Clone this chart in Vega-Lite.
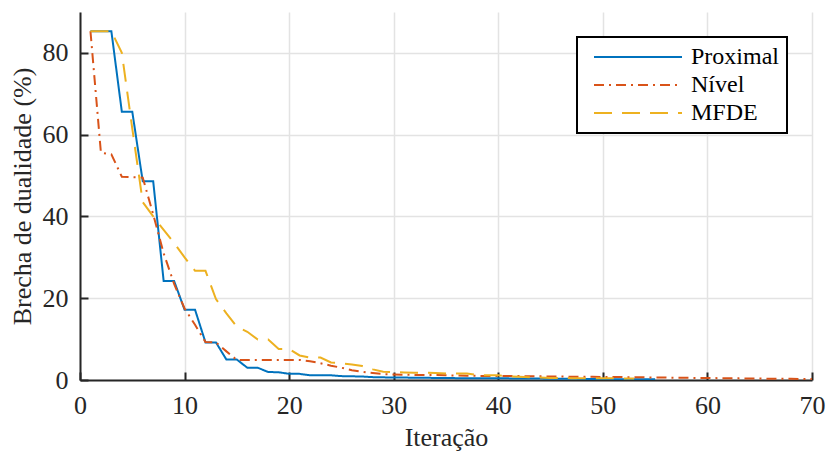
{
  "$schema": "https://vega.github.io/schema/vega-lite/v6.json",
  "width": 732,
  "height": 368,
  "autosize": {"type": "none"},
  "padding": {"left": 80, "top": 12, "right": 16, "bottom": 71},
  "background": "white",
  "config": {
    "view": {"stroke": null},
    "font": "Liberation Serif",
    "axis": {
      "domainColor": "#262626",
      "domainWidth": 2,
      "tickColor": "#262626",
      "tickWidth": 2,
      "tickSize": -8,
      "gridColor": "#e3e3e3",
      "gridWidth": 1.5,
      "labelFont": "Liberation Serif",
      "labelFontSize": 26,
      "labelColor": "#262626",
      "labelFlush": false,
      "titleFont": "Liberation Serif",
      "titleFontSize": 26,
      "titleFontWeight": "normal",
      "titleColor": "#262626"
    },
    "legend": {
      "labelFont": "Liberation Serif",
      "labelFontSize": 24,
      "labelColor": "#000000"
    }
  },
  "data": {
    "values": [
      {"iter": 1, "gap": 85.3, "method": "Proximal"},
      {"iter": 2, "gap": 85.3, "method": "Proximal"},
      {"iter": 3, "gap": 85.3, "method": "Proximal"},
      {"iter": 4, "gap": 65.6, "method": "Proximal"},
      {"iter": 5, "gap": 65.6, "method": "Proximal"},
      {"iter": 6, "gap": 48.6, "method": "Proximal"},
      {"iter": 7, "gap": 48.6, "method": "Proximal"},
      {"iter": 8, "gap": 24.2, "method": "Proximal"},
      {"iter": 9, "gap": 24.2, "method": "Proximal"},
      {"iter": 10, "gap": 17.2, "method": "Proximal"},
      {"iter": 11, "gap": 17.2, "method": "Proximal"},
      {"iter": 12, "gap": 9.2, "method": "Proximal"},
      {"iter": 13, "gap": 9.2, "method": "Proximal"},
      {"iter": 14, "gap": 5.0, "method": "Proximal"},
      {"iter": 15, "gap": 5.0, "method": "Proximal"},
      {"iter": 16, "gap": 3.0, "method": "Proximal"},
      {"iter": 17, "gap": 3.0, "method": "Proximal"},
      {"iter": 18, "gap": 1.95, "method": "Proximal"},
      {"iter": 19, "gap": 1.9, "method": "Proximal"},
      {"iter": 20, "gap": 1.5, "method": "Proximal"},
      {"iter": 21, "gap": 1.5, "method": "Proximal"},
      {"iter": 22, "gap": 1.15, "method": "Proximal"},
      {"iter": 23, "gap": 1.15, "method": "Proximal"},
      {"iter": 24, "gap": 1.15, "method": "Proximal"},
      {"iter": 25, "gap": 0.95, "method": "Proximal"},
      {"iter": 26, "gap": 0.9, "method": "Proximal"},
      {"iter": 27, "gap": 0.85, "method": "Proximal"},
      {"iter": 28, "gap": 0.7, "method": "Proximal"},
      {"iter": 29, "gap": 0.65, "method": "Proximal"},
      {"iter": 30, "gap": 0.6, "method": "Proximal"},
      {"iter": 31, "gap": 0.6, "method": "Proximal"},
      {"iter": 32, "gap": 0.55, "method": "Proximal"},
      {"iter": 33, "gap": 0.55, "method": "Proximal"},
      {"iter": 34, "gap": 0.5, "method": "Proximal"},
      {"iter": 35, "gap": 0.5, "method": "Proximal"},
      {"iter": 36, "gap": 0.45, "method": "Proximal"},
      {"iter": 37, "gap": 0.45, "method": "Proximal"},
      {"iter": 38, "gap": 0.45, "method": "Proximal"},
      {"iter": 39, "gap": 0.4, "method": "Proximal"},
      {"iter": 40, "gap": 0.4, "method": "Proximal"},
      {"iter": 41, "gap": 0.4, "method": "Proximal"},
      {"iter": 42, "gap": 0.35, "method": "Proximal"},
      {"iter": 43, "gap": 0.35, "method": "Proximal"},
      {"iter": 44, "gap": 0.35, "method": "Proximal"},
      {"iter": 45, "gap": 0.3, "method": "Proximal"},
      {"iter": 46, "gap": 0.3, "method": "Proximal"},
      {"iter": 47, "gap": 0.3, "method": "Proximal"},
      {"iter": 48, "gap": 0.25, "method": "Proximal"},
      {"iter": 49, "gap": 0.25, "method": "Proximal"},
      {"iter": 50, "gap": 0.25, "method": "Proximal"},
      {"iter": 51, "gap": 0.2, "method": "Proximal"},
      {"iter": 52, "gap": 0.2, "method": "Proximal"},
      {"iter": 53, "gap": 0.2, "method": "Proximal"},
      {"iter": 54, "gap": 0.2, "method": "Proximal"},
      {"iter": 55, "gap": 0.2, "method": "Proximal"},
      {"iter": 1, "gap": 85.3, "method": "Nível"},
      {"iter": 2, "gap": 55.6, "method": "Nível"},
      {"iter": 3, "gap": 55.2, "method": "Nível"},
      {"iter": 4, "gap": 49.7, "method": "Nível"},
      {"iter": 5, "gap": 49.6, "method": "Nível"},
      {"iter": 6, "gap": 49.5, "method": "Nível"},
      {"iter": 7, "gap": 40.5, "method": "Nível"},
      {"iter": 8, "gap": 31.0, "method": "Nível"},
      {"iter": 9, "gap": 23.5, "method": "Nível"},
      {"iter": 10, "gap": 17.5, "method": "Nível"},
      {"iter": 11, "gap": 13.5, "method": "Nível"},
      {"iter": 12, "gap": 9.3, "method": "Nível"},
      {"iter": 13, "gap": 9.2, "method": "Nível"},
      {"iter": 14, "gap": 7.0, "method": "Nível"},
      {"iter": 15, "gap": 4.9, "method": "Nível"},
      {"iter": 16, "gap": 4.9, "method": "Nível"},
      {"iter": 17, "gap": 4.9, "method": "Nível"},
      {"iter": 18, "gap": 4.9, "method": "Nível"},
      {"iter": 19, "gap": 4.9, "method": "Nível"},
      {"iter": 20, "gap": 4.9, "method": "Nível"},
      {"iter": 21, "gap": 4.9, "method": "Nível"},
      {"iter": 22, "gap": 4.6, "method": "Nível"},
      {"iter": 23, "gap": 4.1, "method": "Nível"},
      {"iter": 24, "gap": 3.5, "method": "Nível"},
      {"iter": 25, "gap": 3.0, "method": "Nível"},
      {"iter": 26, "gap": 2.4, "method": "Nível"},
      {"iter": 27, "gap": 2.0, "method": "Nível"},
      {"iter": 28, "gap": 1.7, "method": "Nível"},
      {"iter": 29, "gap": 1.45, "method": "Nível"},
      {"iter": 30, "gap": 1.35, "method": "Nível"},
      {"iter": 31, "gap": 1.3, "method": "Nível"},
      {"iter": 32, "gap": 1.25, "method": "Nível"},
      {"iter": 33, "gap": 1.2, "method": "Nível"},
      {"iter": 34, "gap": 1.2, "method": "Nível"},
      {"iter": 35, "gap": 1.15, "method": "Nível"},
      {"iter": 36, "gap": 1.1, "method": "Nível"},
      {"iter": 37, "gap": 1.05, "method": "Nível"},
      {"iter": 38, "gap": 1.0, "method": "Nível"},
      {"iter": 39, "gap": 1.0, "method": "Nível"},
      {"iter": 40, "gap": 1.0, "method": "Nível"},
      {"iter": 41, "gap": 0.95, "method": "Nível"},
      {"iter": 42, "gap": 0.95, "method": "Nível"},
      {"iter": 43, "gap": 0.9, "method": "Nível"},
      {"iter": 44, "gap": 0.9, "method": "Nível"},
      {"iter": 45, "gap": 0.85, "method": "Nível"},
      {"iter": 46, "gap": 0.85, "method": "Nível"},
      {"iter": 47, "gap": 0.8, "method": "Nível"},
      {"iter": 48, "gap": 0.8, "method": "Nível"},
      {"iter": 49, "gap": 0.8, "method": "Nível"},
      {"iter": 50, "gap": 0.75, "method": "Nível"},
      {"iter": 51, "gap": 0.75, "method": "Nível"},
      {"iter": 52, "gap": 0.7, "method": "Nível"},
      {"iter": 53, "gap": 0.7, "method": "Nível"},
      {"iter": 54, "gap": 0.65, "method": "Nível"},
      {"iter": 55, "gap": 0.6, "method": "Nível"},
      {"iter": 56, "gap": 0.6, "method": "Nível"},
      {"iter": 57, "gap": 0.55, "method": "Nível"},
      {"iter": 58, "gap": 0.55, "method": "Nível"},
      {"iter": 59, "gap": 0.5, "method": "Nível"},
      {"iter": 60, "gap": 0.5, "method": "Nível"},
      {"iter": 61, "gap": 0.45, "method": "Nível"},
      {"iter": 62, "gap": 0.4, "method": "Nível"},
      {"iter": 63, "gap": 0.4, "method": "Nível"},
      {"iter": 64, "gap": 0.35, "method": "Nível"},
      {"iter": 65, "gap": 0.35, "method": "Nível"},
      {"iter": 66, "gap": 0.3, "method": "Nível"},
      {"iter": 67, "gap": 0.3, "method": "Nível"},
      {"iter": 68, "gap": 0.3, "method": "Nível"},
      {"iter": 69, "gap": 0.25, "method": "Nível"},
      {"iter": 70, "gap": 0.25, "method": "Nível"},
      {"iter": 1, "gap": 85.3, "method": "MFDE"},
      {"iter": 2, "gap": 85.3, "method": "MFDE"},
      {"iter": 3, "gap": 85.3, "method": "MFDE"},
      {"iter": 4, "gap": 80.0, "method": "MFDE"},
      {"iter": 5, "gap": 61.5, "method": "MFDE"},
      {"iter": 6, "gap": 43.5, "method": "MFDE"},
      {"iter": 7, "gap": 40.0, "method": "MFDE"},
      {"iter": 8, "gap": 36.7, "method": "MFDE"},
      {"iter": 9, "gap": 33.5, "method": "MFDE"},
      {"iter": 10, "gap": 30.0, "method": "MFDE"},
      {"iter": 11, "gap": 26.7, "method": "MFDE"},
      {"iter": 12, "gap": 26.7, "method": "MFDE"},
      {"iter": 13, "gap": 19.8, "method": "MFDE"},
      {"iter": 14, "gap": 16.3, "method": "MFDE"},
      {"iter": 15, "gap": 13.0, "method": "MFDE"},
      {"iter": 16, "gap": 11.8, "method": "MFDE"},
      {"iter": 17, "gap": 9.9, "method": "MFDE"},
      {"iter": 18, "gap": 9.9, "method": "MFDE"},
      {"iter": 19, "gap": 7.6, "method": "MFDE"},
      {"iter": 20, "gap": 7.6, "method": "MFDE"},
      {"iter": 21, "gap": 6.0, "method": "MFDE"},
      {"iter": 22, "gap": 5.5, "method": "MFDE"},
      {"iter": 23, "gap": 5.5, "method": "MFDE"},
      {"iter": 24, "gap": 4.3, "method": "MFDE"},
      {"iter": 25, "gap": 4.1, "method": "MFDE"},
      {"iter": 26, "gap": 3.8, "method": "MFDE"},
      {"iter": 27, "gap": 3.4, "method": "MFDE"},
      {"iter": 28, "gap": 2.6, "method": "MFDE"},
      {"iter": 29, "gap": 2.0, "method": "MFDE"},
      {"iter": 30, "gap": 1.9, "method": "MFDE"},
      {"iter": 31, "gap": 1.85, "method": "MFDE"},
      {"iter": 32, "gap": 1.8, "method": "MFDE"},
      {"iter": 33, "gap": 1.8, "method": "MFDE"},
      {"iter": 34, "gap": 1.7, "method": "MFDE"},
      {"iter": 35, "gap": 1.6, "method": "MFDE"},
      {"iter": 36, "gap": 1.6, "method": "MFDE"},
      {"iter": 37, "gap": 1.6, "method": "MFDE"},
      {"iter": 38, "gap": 1.2, "method": "MFDE"},
      {"iter": 39, "gap": 1.15, "method": "MFDE"},
      {"iter": 40, "gap": 1.15, "method": "MFDE"},
      {"iter": 41, "gap": 0.9, "method": "MFDE"},
      {"iter": 42, "gap": 0.8, "method": "MFDE"},
      {"iter": 43, "gap": 0.7, "method": "MFDE"},
      {"iter": 44, "gap": 0.6, "method": "MFDE"},
      {"iter": 45, "gap": 0.5, "method": "MFDE"},
      {"iter": 46, "gap": 0.5, "method": "MFDE"},
      {"iter": 47, "gap": 0.45, "method": "MFDE"},
      {"iter": 48, "gap": 0.4, "method": "MFDE"},
      {"iter": 49, "gap": 0.4, "method": "MFDE"},
      {"iter": 50, "gap": 0.4, "method": "MFDE"},
      {"iter": 51, "gap": 0.4, "method": "MFDE"},
      {"iter": 52, "gap": 0.35, "method": "MFDE"},
      {"iter": 53, "gap": 0.35, "method": "MFDE"}
    ]
  },
  "mark": {"type": "line", "strokeWidth": 2, "clip": true},
  "encoding": {
    "x": {
      "field": "iter",
      "type": "quantitative",
      "scale": {"domain": [0, 70], "nice": false, "zero": false},
      "axis": {
        "title": "Iteração",
        "values": [0, 10, 20, 30, 40, 50, 60, 70],
        "labelPadding": 20,
        "titlePadding": 6,
        "grid": true
      }
    },
    "y": {
      "field": "gap",
      "type": "quantitative",
      "scale": {"domain": [0, 90], "nice": false},
      "axis": {
        "title": "Brecha de dualidade (%)",
        "values": [0, 20, 40, 60, 80],
        "labelPadding": 20,
        "titlePadding": 7,
        "grid": true
      }
    },
    "color": {
      "field": "method",
      "type": "nominal",
      "scale": {
        "domain": ["Proximal", "Nível", "MFDE"],
        "range": ["#0072BD", "#D95319", "#EDB120"]
      },
      "legend": {
        "title": null,
        "orient": "none",
        "legendX": 497,
        "legendY": 25,
        "symbolType": "stroke",
        "symbolSize": 7744,
        "symbolStrokeWidth": 2,
        "symbolOffset": 8,
        "clipHeight": 24,
        "rowPadding": 4,
        "padding": 8,
        "labelOffset": 8,
        "strokeColor": "#000000",
        "fillColor": "#ffffff",
        "encode": {"legend": {"update": {"strokeWidth": {"value": 2}}}}
      }
    },
    "strokeDash": {
      "field": "method",
      "type": "nominal",
      "scale": {
        "domain": ["Proximal", "Nível", "MFDE"],
        "range": [[1, 0], [10, 5, 2, 5], [18, 10]]
      },
      "legend": null
    }
  }
}
